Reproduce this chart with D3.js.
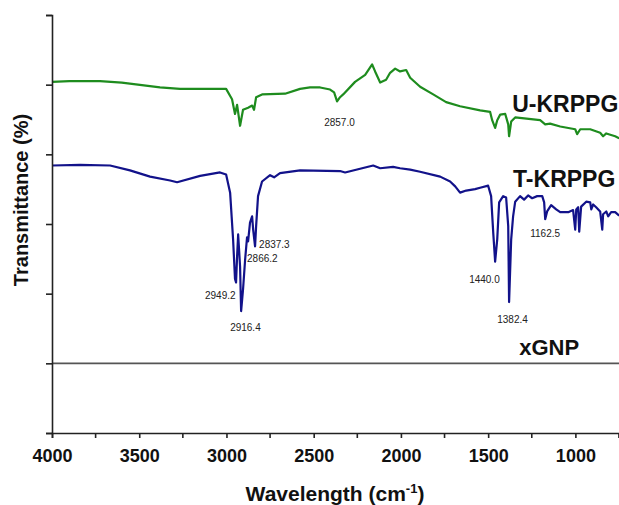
<!DOCTYPE html>
<html>
<head>
<meta charset="utf-8">
<script src="https://cdn.jsdelivr.net/npm/d3@7"></script>
<style>
  body { margin: 0; background: #fff; }
  svg { font-family: Arial, "Liberation Sans", sans-serif; }
</style>
</head>
<body>
<svg id="chart" width="619" height="505"></svg>
<script>
// spectra: [wavenumber, transmittance (arb. units)]
const uKrppg = [
  [4000, 50.4], [3900, 50.5], [3725, 50.5], [3600, 50.3], [3381, 49.6], [3266, 49.4],
  [3002, 49.4], [2968, 47.9], [2951, 45.8], [2939, 47.1], [2922, 44.1], [2905, 46.4],
  [2876, 46.7], [2853, 47.0], [2842, 46.4], [2830, 48.2], [2796, 48.6], [2664, 48.7],
  [2578, 49.4], [2521, 49.6], [2463, 49.6], [2406, 49.3], [2383, 48.9], [2366, 47.6],
  [2349, 48.2], [2331, 48.6], [2263, 50.4], [2205, 51.4], [2165, 52.9], [2148, 51.9],
  [2119, 50.3], [2085, 50.7], [2062, 51.7], [2033, 52.3], [2005, 51.9], [1970, 52.1],
  [1947, 51.0], [1890, 49.7], [1815, 48.6], [1741, 47.5], [1661, 46.9], [1546, 46.3],
  [1489, 46.1], [1477, 44.9], [1460, 43.8], [1448, 44.9], [1431, 45.7], [1402, 45.8],
  [1385, 44.3], [1380, 42.6], [1368, 44.7], [1345, 45.3], [1202, 44.9], [1173, 44.3],
  [1145, 44.4], [1087, 44.0], [1001, 43.6], [990, 42.9], [972, 43.6], [915, 43.6],
  [858, 43.1], [841, 42.6], [823, 43.0], [772, 42.6], [749, 42.3]
];

const tKrppg = [
  [4000, 38.4], [3839, 38.5], [3667, 38.4], [3553, 37.7], [3438, 36.8], [3323, 36.25],
  [3283, 36.0], [3151, 36.9], [3037, 37.4], [3002, 37.1], [2979, 34.5], [2962, 27.8],
  [2951, 22.1], [2945, 21.6], [2939, 25.4], [2933, 28.5], [2922, 23.9], [2916, 17.5],
  [2905, 20.6], [2893, 24.9], [2882, 28.1], [2876, 27.5], [2865, 30.2], [2853, 31.1],
  [2847, 29.2], [2836, 26.8], [2830, 29.7], [2819, 34.0], [2796, 36.1], [2750, 37.0],
  [2727, 36.7], [2693, 37.3], [2578, 37.7], [2349, 37.6], [2320, 37.4], [2159, 38.4],
  [2119, 38.0], [2045, 38.2], [2005, 38.0], [1947, 37.8], [1890, 37.5], [1775, 36.8],
  [1718, 36.1], [1689, 35.4], [1661, 34.5], [1626, 34.8], [1575, 35.0], [1546, 35.2],
  [1500, 35.5], [1483, 34.0], [1471, 28.8], [1460, 24.6], [1448, 27.8], [1437, 33.1],
  [1414, 34.0], [1397, 33.8], [1385, 29.7], [1380, 18.8], [1368, 27.8], [1357, 31.1],
  [1345, 33.2], [1317, 34.0], [1294, 33.5], [1271, 34.1], [1248, 33.7], [1219, 34.0],
  [1190, 34.0], [1179, 33.1], [1173, 30.7], [1162, 31.8], [1139, 32.7], [1110, 32.1],
  [1087, 31.7], [1041, 31.7], [1013, 32.0], [1001, 29.2], [995, 32.1], [984, 32.4],
  [978, 28.9], [967, 32.5], [938, 33.2], [915, 33.1], [909, 32.1], [898, 32.8],
  [881, 32.4], [858, 31.8], [846, 29.2], [841, 31.4], [823, 31.8], [812, 31.1],
  [795, 31.7], [772, 31.7], [749, 31.2]
];

const xGnp = [[4000, 10], [750, 10]];

// peak annotations: text, left edge wavenumber, baseline value
const peakLabels = [
  ["2857.0", 2440, 44.0],
  ["2949.2", 3123, 19.3],
  ["2916.4", 2979, 14.6],
  ["2866.2", 2882, 24.5],
  ["2837.3", 2813, 26.6],
  ["1440.0", 1609, 21.5],
  ["1382.4", 1448, 15.8],
  ["1162.5", 1259, 28.1]
];

const seriesNames = [
  ["U-KRPPG", 1362, 46.1],
  ["T-KRPPG", 1357, 35.3],
  ["xGNP", 1322, 11.2]
];

const xMajor = [4000, 3500, 3000, 2500, 2000, 1500, 1000];
const xMinor = [3750, 3250, 2750, 2250, 1750, 1250, 750];
const yTicks = [0, 10, 20, 30, 40, 50, 60];

const svg = d3.select("#chart");
const plotLeft = 52, plotRight = 619, plotTop = 15, plotBottom = 433;

const x = d3.scaleLinear().domain([4000, 750]).range([plotLeft, plotRight]);
const y = d3.scaleLinear().domain([0, 60]).range([plotBottom, plotTop]);

const line = d3.line()
  .x(d => x(d[0]))
  .y(d => y(d[1]));

svg.append("path")
  .datum(xGnp)
  .attr("d", line)
  .attr("fill", "none")
  .attr("stroke", "#555")
  .attr("stroke-width", 1.6);

svg.append("path")
  .datum(uKrppg)
  .attr("d", line)
  .attr("fill", "none")
  .attr("stroke", "#1e8c1e")
  .attr("stroke-width", 2.2)
  .attr("stroke-linejoin", "round");

svg.append("path")
  .datum(tKrppg)
  .attr("d", line)
  .attr("fill", "none")
  .attr("stroke", "#12128a")
  .attr("stroke-width", 2.2)
  .attr("stroke-linejoin", "round");

// y axis, no labels
const yAxis = svg.append("g")
  .attr("transform", `translate(${plotLeft},0)`)
  .call(d3.axisLeft(y).tickValues(yTicks).tickSize(6).tickFormat(""));
yAxis.select(".domain").attr("stroke", "#222").attr("stroke-width", 1.6);
yAxis.selectAll(".tick line").attr("stroke", "#222").attr("stroke-width", 1.6);

// x axis with minor ticks
const xAxis = svg.append("g")
  .attr("transform", `translate(0,${plotBottom})`)
  .call(d3.axisBottom(x).tickValues(xMajor).tickSize(5).tickPadding(11)
    .tickFormat(d3.format("d")));
xAxis.select(".domain").attr("stroke", "#222").attr("stroke-width", 1.6);
xAxis.selectAll(".tick line").attr("stroke", "#222").attr("stroke-width", 1.6);
xAxis.selectAll(".tick text")
  .attr("fill", "#111")
  .style("font-size", "18px")
  .style("font-weight", "bold")
  .style("font-family", "Arial, 'Liberation Sans', sans-serif");

svg.append("g")
  .attr("transform", `translate(0,${plotBottom})`)
  .selectAll("line")
  .data(xMinor)
  .enter()
  .append("line")
  .attr("x1", d => x(d)).attr("x2", d => x(d))
  .attr("y1", 0).attr("y2", 5)
  .attr("stroke", "#222")
  .attr("stroke-width", 1.6);

// peak labels
svg.selectAll(".peak")
  .data(peakLabels)
  .enter()
  .append("text")
  .attr("class", "peak")
  .attr("x", d => x(d[1]))
  .attr("y", d => y(d[2]))
  .attr("font-size", 10)
  .attr("fill", "#222")
  .text(d => d[0]);

// series names
svg.selectAll(".sname")
  .data(seriesNames)
  .enter()
  .append("text")
  .attr("class", "sname")
  .attr("x", d => x(d[1]))
  .attr("y", d => y(d[2]))
  .attr("font-size", d => d[0] === "xGNP" ? 22 : 23)
  .attr("font-weight", "bold")
  .attr("fill", "#111")
  .text(d => d[0]);

// axis titles
svg.append("text")
  .attr("transform", "translate(28,200) rotate(-90)")
  .attr("text-anchor", "middle")
  .attr("font-size", 20)
  .attr("font-weight", "bold")
  .attr("fill", "#111")
  .text("Transmittance (%)");

const xt = svg.append("text")
  .attr("x", 335)
  .attr("y", 501)
  .attr("text-anchor", "middle")
  .attr("font-size", 21)
  .attr("font-weight", "bold")
  .attr("fill", "#111");
xt.append("tspan").text("Wavelength (cm");
xt.append("tspan").attr("dy", -8).attr("font-size", 13).text("-1");
xt.append("tspan").attr("dy", 8).text(")");
</script>
</body>
</html>
